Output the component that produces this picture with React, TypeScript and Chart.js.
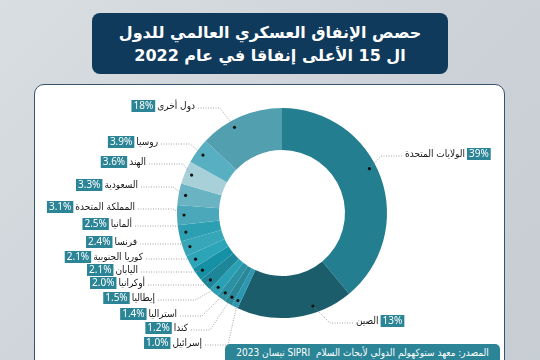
import { useEffect, useRef } from "react";
import { Chart, registerables } from "chart.js";
Chart.register(...registerables);

// ---- data ----
const countries = [
  "الولايات المتحدة",
  "الصين",
  "إسرائيل",
  "كندا",
  "استراليا",
  "إيطاليا",
  "أوكرانيا",
  "اليابان",
  "كوريا الجنوبية",
  "فرنسا",
  "ألمانيا",
  "المملكة المتحدة",
  "السعودية",
  "الهند",
  "روسيا",
  "دول أخرى",
];
// slice sizes as they are drawn in the source graphic (China and "others" slices drawn swapped vs. their labels)
const sliceShares = [39, 18, 1.0, 1.2, 1.4, 1.5, 2.0, 2.1, 2.1, 2.4, 2.5, 3.1, 3.3, 3.6, 3.9, 13];
// percentages printed on the labels
const shareLabels = ["39%", "13%", "1.0%", "1.2%", "1.4%", "1.5%", "2.0%", "2.1%", "2.1%", "2.4%", "2.5%", "3.1%", "3.3%", "3.6%", "3.9%", "18%"];

const titleLines = ["حصص الإنفاق العسكري العالمي للدول", "ال 15 الأعلى إنفاقا في عام 2022"];
const sourceText = "المصدر: معهد ستوكهولم الدولي لأبحاث السلام  SIPRI نيسان 2023";

// ---- style ----
const sliceColors = [
  "#237e90", "#1b5d6b", "#2a98b0", "#2a8798", "#2c91a2", "#2aa0b5", "#1e8699", "#1590a4",
  "#2ca5b8", "#38a6b9", "#2c9fb3", "#4aa8ba", "#6ab3c2", "#a8d0d8", "#57afc1", "#529fb0",
];

// ---- label layout (side, text line y, text edge x, knee x, dot position along slice) ----
const labelSide = ["R", "R", "L", "L", "L", "L", "L", "L", "L", "L", "L", "L", "L", "L", "L", "L"];
const labelY = [154, 321, 343, 328, 314, 298, 283, 270, 257, 242, 224, 207, 185, 162, 142, 106];
const labelEdge = [405, 356, 202, 188, 177, 155, 145, 138, 143, 137, 132, 135, 138, 146, 158, 195];
const labelKnee = [381, 330, 228, 210, 202, 195, 205, 195, 187, 185, 177, 173, 173, 183, 190, 220];
const dotFrac = [0.45, 0.33, 0.5, 0.5, 0.5, 0.5, 0.5, 0.5, 0.5, 0.5, 0.5, 0.5, 0.5, 0.5, 0.5, 0.38];

const ARABIC_FONT = "10px 'DejaVu Sans Condensed', 'DejaVu Sans'";
const PCT_FONT = "10px 'Noto Sans'";

const labelPlugin = {
  id: "leaderLabels",
  afterDraw(chart: any) {
    const ctx = chart.ctx as CanvasRenderingContext2D;
    const meta = chart.getDatasetMeta(0);
    meta.data.forEach((arc: any, i: number) => {
      const p = arc.getProps(["x", "y", "startAngle", "endAngle", "outerRadius"], true);
      const ang = p.startAngle + (p.endAngle - p.startAngle) * dotFrac[i];
      const r = p.outerRadius - 7;
      const dx = p.x + Math.cos(ang) * r;
      const dy = p.y + Math.sin(ang) * r;
      const side = labelSide[i];
      const ly = labelY[i];
      const edge = labelEdge[i];
      const knee = labelKnee[i];
      const lineY = ly + 2;

      ctx.save();
      ctx.setLineDash([1, 1.5]);
      ctx.strokeStyle = "#8c8c8c";
      ctx.lineWidth = 0.8;
      ctx.beginPath();
      const startX = side === "L" ? edge + 3 : edge - 3;
      ctx.moveTo(startX, lineY);
      ctx.lineTo(knee, lineY);
      ctx.lineTo(dx, dy);
      ctx.stroke();
      ctx.setLineDash([]);
      ctx.fillStyle = "#111";
      ctx.beginPath();
      ctx.arc(dx, dy, 1.6, 0, Math.PI * 2);
      ctx.fill();

      ctx.font = ARABIC_FONT;
      ctx.direction = "rtl";
      ctx.textBaseline = "middle";
      ctx.fillStyle = "#161616";
      const tw = ctx.measureText(countries[i]).width;
      ctx.textAlign = side === "L" ? "right" : "left";
      ctx.fillText(countries[i], edge, ly);

      ctx.font = PCT_FONT;
      ctx.direction = "ltr";
      const pw = ctx.measureText(shareLabels[i]).width;
      const bw = pw + 4;
      const bh = 12;
      const bx = side === "L" ? edge - tw - 2 - bw : edge + tw + 2;
      ctx.fillStyle = "#2b8597";
      ctx.fillRect(bx, ly - bh / 2, bw, bh);
      ctx.fillStyle = "#fff";
      ctx.textAlign = "center";
      ctx.fillText(shareLabels[i], bx + bw / 2, ly + 0.5);
      ctx.restore();
    });
  },
};

export default function App() {
  const ref = useRef<HTMLCanvasElement | null>(null);
  useEffect(() => {
    if (!ref.current) return;
    const chart = new Chart(ref.current, {
      type: "doughnut",
      data: {
        labels: countries,
        datasets: [
          {
            data: sliceShares,
            backgroundColor: sliceColors,
            borderWidth: 0,
          },
        ],
      },
      options: {
        responsive: false,
        animation: false,
        cutout: "60%",
        layout: { padding: { left: 177, right: 153, top: 108, bottom: 42 } },
        plugins: { legend: { display: false }, tooltip: { enabled: false } },
      },
      plugins: [labelPlugin],
    });
    return () => chart.destroy();
  }, []);

  return (
    <div
      style={{
        position: "fixed",
        left: 0,
        top: 0,
        width: 540,
        height: 360,
        overflow: "hidden",
        background: "linear-gradient(135deg, #d9dee2 0%, #cdd3d8 50%, #c6cdd3 100%)",
      }}
    >
      <div
        style={{
          position: "absolute",
          left: 92,
          top: 13,
          width: 356,
          height: 61,
          borderRadius: 8,
          background: "#0f3a5c",
          color: "#fff",
          fontFamily: "'DejaVu Sans', sans-serif",
          fontWeight: "bold",
          fontSize: 16,
          lineHeight: "23px",
          textAlign: "center",
          direction: "rtl",
          display: "flex",
          flexDirection: "column",
          justifyContent: "center",
        }}
      >
        <div>{titleLines[0]}</div>
        <div>{titleLines[1]}</div>
      </div>
      <div
        style={{
          position: "absolute",
          left: 34,
          top: 84,
          width: 469,
          height: 320,
          background: "#fff",
          border: "1.5px solid #36536f",
          borderRadius: 10,
        }}
      />
      <div
        style={{
          position: "absolute",
          left: 225,
          top: 344,
          width: 275,
          height: 30,
          background: "#2b8597",
          borderRadius: 5,
          color: "#fff",
          fontFamily: "'DejaVu Sans Condensed', 'DejaVu Sans', sans-serif",
          fontSize: 10,
          lineHeight: "17px",
          textAlign: "center",
          direction: "rtl",
          whiteSpace: "pre",
        }}
      >
        {sourceText}
      </div>
      <canvas ref={ref} width={540} height={360} style={{ position: "absolute", left: 0, top: 0 }} />
    </div>
  );
}
